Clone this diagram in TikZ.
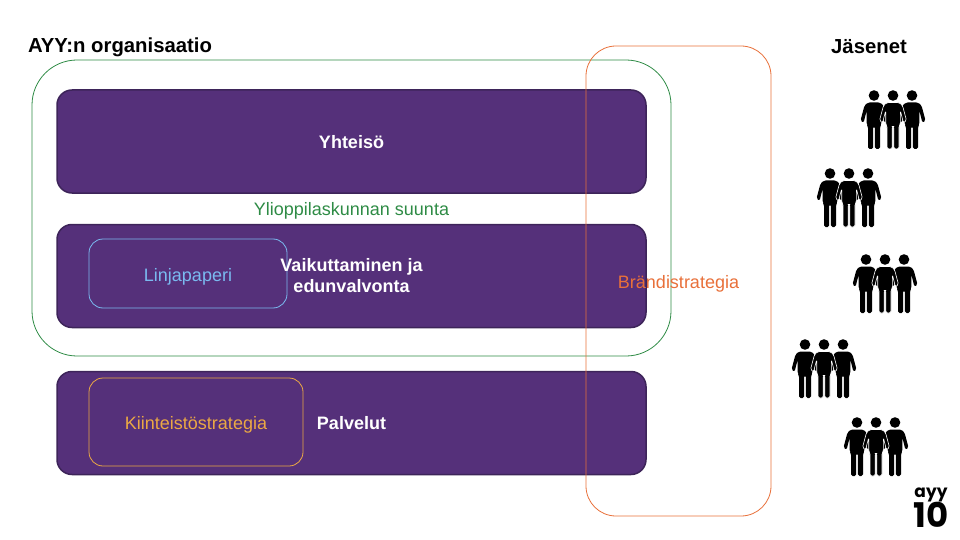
\documentclass[tikz,border=0pt]{standalone}
\usepackage{fontspec}
\setmainfont{Liberation Sans}
\newfontfamily\logofont{Poppins}
\definecolor{ayypurple}{HTML}{55307A}
\definecolor{ayyedge}{HTML}{3D2459}
\definecolor{ayygreen}{HTML}{2E8B45}
\definecolor{ayyblue}{HTML}{7ABAF0}
\definecolor{ayyyellow}{HTML}{EBA844}
\definecolor{ayyorange}{HTML}{E8703A}
\tikzset{
	band/.style={draw=ayyedge,line width=1.5pt,fill=ayypurple,rounded corners=15pt,minimum width=589pt,minimum height=103pt,inner sep=0pt},
	frame/.style={line width=.8pt,rounded corners=#1,inner sep=0pt},
	plain/.style={font=\fontsize{18}{21}\selectfont,align=center,inner sep=0pt},
	strong/.style={font=\fontsize{18}{21}\selectfont\bfseries,align=center,inner sep=0pt},
	heading/.style={font=\fontsize{20.3}{24}\selectfont\bfseries,inner sep=0pt},
	body/.style={},
	person/.pic={
		\fill (0,0) circle (5.3);
		\fill[rounded corners=1.6pt,body] (-6,7) -- (6,7) -- (9.5,10) -- (13.5,25) -- (10.5,27.5) -- (7.3,15) -- (7.3,29) -- (6,31) -- (6,53.5) -- (.9,53.5) -- (.9,31) -- (-.9,31) -- (-.9,53.5) -- (-6,53.5) -- (-6,31) -- (-7.3,29) -- (-7.3,15) -- (-10.5,27.5) -- (-13.5,25) -- (-9.5,10) -- cycle;
	},
	trio/.pic={
		\pic at (-19,0) {person};
		\pic at (19,0) {person};
		\pic[body/.style={draw=white,line width=.6pt}] at (0,0) {person};
	}
}
\begin{document}
\begin{tikzpicture}[x=1pt,y=-1pt]
	\useasboundingbox (0,0) rectangle (960,540);
	\node[band] (yhteiso) at (351.5,141.5) {};
	\node[band] (suunta) at (351.5,276) {};
	\node[band] (palvelut) at (351.5,423) {};
	\node[frame=45pt,draw=ayygreen,minimum width=639pt,minimum height=296pt] (organisaatio) at (351.5,208) {};
	\node[frame=30pt,draw=ayyorange,minimum width=185pt,minimum height=470pt] (brandi) at (678.5,281) {};
	\node[frame=14pt,draw=ayyblue,minimum width=198pt,minimum height=69pt] (linja) at (188,273.5) {};
	\node[frame=14pt,draw=ayyyellow,minimum width=214pt,minimum height=88pt] (kiinteisto) at (196,422) {};
	\node[heading] (otsikko) at (120,47.5) {AYY:n organisaatio};
	\node[heading] (jasenet) at (869,47) {Jäsenet};
	\node[strong,text=white] (yhteisoteksti) at (351.5,142) {Yhteisö};
	\node[plain,text=ayygreen] (suuntateksti) at (351.5,210.5) {Ylioppilaskunnan suunta};
	\node[plain,text=ayyblue] (linjateksti) at (188,276.5) {Linjapaperi};
	\node[strong,text=white] (vaikuttaminen) at (351.5,276) {Vaikuttaminen ja\\edunvalvonta};
	\node[plain,text=ayyorange] (branditeksti) at (678.5,283.5) {Brändistrategia};
	\node[plain,text=ayyyellow] (kiinteistoteksti) at (196,424.5) {Kiinteistöstrategia};
	\node[strong,text=white] (palveluteksti) at (351.5,423.5) {Palvelut};
	\pic at (893,95.5) {trio};
	\pic at (849,173.5) {trio};
	\pic at (885,259.5) {trio};
	\pic at (824,344.5) {trio};
	\pic at (876,422.5) {trio};
	\node[inner sep=0pt,font=\logofont\fontsize{17}{17}\selectfont\bfseries] (logoayy) at (931,495) {ayy};
	\node[inner sep=0pt,font=\logofont\fontsize{34}{34}\selectfont\bfseries] (logoten) at (931,515) {10};
\end{tikzpicture}
\end{document}
